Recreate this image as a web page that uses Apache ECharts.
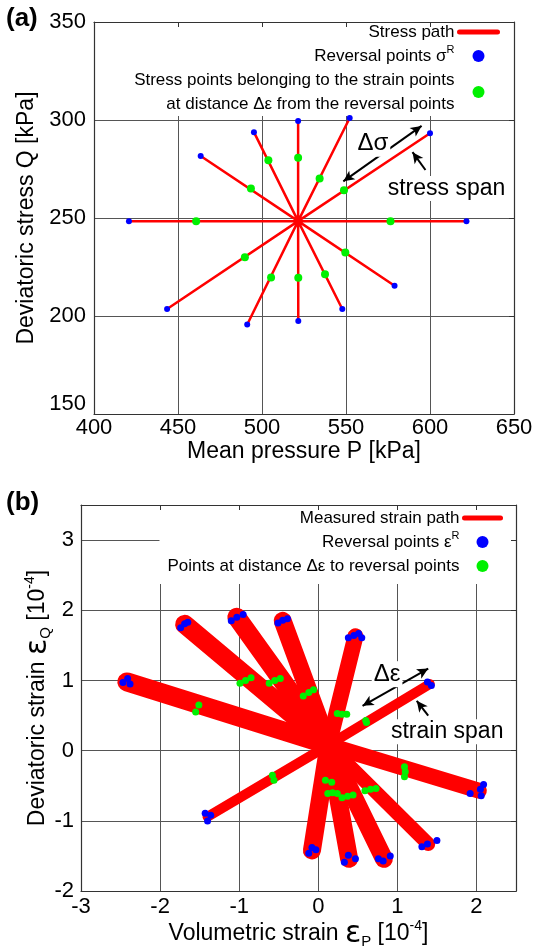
<!DOCTYPE html>
<html><head><meta charset="utf-8">
<script src="https://cdn.jsdelivr.net/npm/echarts@6/dist/echarts.min.js"></script>
<style>html,body{margin:0;padding:0;background:#fff}#c{width:539px;height:950px}</style>
</head><body><div id="c"></div>
<script>
// ---------- (a) stress space ----------
const stressCenter = [521.5, 248.4];
const stressRevP = [521.5, 552.2, 600.0, 495.2, 463.5, 420.8, 621.7, 443.5, 491.2, 521.6, 547.8, 578.9];
const stressRevQ = [299.5, 301.0, 293.2, 293.8, 281.6, 248.4, 248.4, 203.6, 195.7, 197.5, 203.6, 215.4];
const stressMidP = [521.5, 534.3, 548.8, 503.8, 493.4, 460.8, 576.5, 489.8, 505.4, 521.6, 537.5, 549.6];
const stressMidQ = [280.8, 270.1, 264.2, 279.5, 265.1, 248.4, 248.4, 230.0, 219.7, 219.5, 221.3, 232.4];
const stressXRange = [400, 650, 50];
const stressYRange = [150, 350, 50];
const stressSpanArrow = [[548.4, 268.7], [595.0, 297.0]];
const stressSpanPointer = [[597.3, 274.5], [589.6, 283.6]];
const stressSpanLabelAt = [609.8, 265.0];
const stressDeltaLabelAt = [566.0, 287.9];

// ---------- (b) strain space ----------
const strainCenter = [0.13, 0.08];
const strainEndP = [-2.42, -1.69, -1.03, -0.45, 0.47, 1.41, -1.40, -0.08, 0.39, 0.83, 1.39, 2.03];
const strainEndQ = [0.98, 1.80, 1.90, 1.85, 1.63, 0.95, -0.94, -1.42, -1.54, -1.54, -1.33, -0.57];
const strainRevP = [-2.47, -2.41, -2.38, -1.74, -1.69, -1.65, -1.10, -1.03, -0.95, -0.51, -0.45, -0.39,
  0.38, 0.45, 0.51, 0.55, 1.38, 1.43, -1.43, -1.36, -1.40, -0.12, -0.08, -0.03,
  0.33, 0.38, 0.47, 0.76, 0.82, 0.91, 1.31, 1.38, 1.50, 1.92, 2.05, 2.09, 2.06];
const strainRevQ = [0.97, 1.03, 0.95, 1.75, 1.81, 1.83, 1.85, 1.90, 1.94, 1.82, 1.86, 1.88,
  1.61, 1.64, 1.67, 1.61, 0.98, 0.93, -0.89, -0.92, -1.00, -1.46, -1.38, -1.41,
  -1.59, -1.49, -1.54, -1.54, -1.57, -1.50, -1.37, -1.33, -1.28, -0.61, -0.55, -0.48, -0.64];
const strainMidP = [-1.55, -1.51, -0.99, -0.92, -0.85, -0.62, -0.55, -0.48, -0.19, -0.12, -0.06,
  0.24, 0.30, 0.36, 0.60, 0.61, 1.09, 1.10, 1.09, -0.58, -0.56, 0.09, 0.17,
  0.12, 0.18, 0.24, 0.30, 0.37, 0.44, 0.59, 0.66, 0.73];
const strainMidQ = [0.55, 0.65, 0.96, 1.00, 1.04, 0.96, 1.00, 1.03, 0.78, 0.83, 0.87,
  0.53, 0.52, 0.52, 0.43, 0.40, -0.23, -0.30, -0.37, -0.35, -0.42, -0.42, -0.45,
  -0.61, -0.60, -0.61, -0.67, -0.65, -0.63, -0.57, -0.55, -0.54];
const strainXRange = [-3, 2.5, 1];
const strainYRange = [-2, 3.5, 1];
const strainSpanArrow = [[0.56, 0.64], [1.39, 1.17]];
const strainSpanPointer = [[1.39, 0.50], [1.245, 0.71]];
const strainSpanLabelAt = [1.63, 0.27];
const strainDeltaLabelAt = [0.87, 1.09];

// ---------- styling (not data) ----------
const FONT = 'Liberation Sans';
const RED = '#ff0000', BLUE = '#0000ff', GREEN = '#00f000';
const bandWidths = [19, 19, 19, 18, 16, 10, 10, 18, 18, 18, 14, 16];

function pairs(xs, ys) { return xs.map((x, i) => [x, ys[i]]); }
function star(c, xs, ys) { const d = []; xs.forEach((x, i) => { d.push(c.slice()); d.push([x, ys[i]]); }); return d; }

const legendNames = {
  a_path: 'Stress path',
  a_rev: '{t|Reversal points σ}{s|R}',
  a_mid: 'Stress points belonging to the strain points\nat distance Δε from the reversal points',
  b_path: 'Measured strain path',
  b_rev: '{t|Reversal points ε}{s|R}',
  b_mid: 'Points at distance Δε to reversal points'
};
const legendRich = {
  t: { fontSize: 17, fontFamily: FONT, color: '#000', lineHeight: 24 },
  s: { fontSize: 11, fontFamily: FONT, color: '#000', lineHeight: 12, verticalAlign: 'top' }
};
const nameRich = {
  t: { fontSize: 23, fontFamily: FONT, color: '#000', lineHeight: 30 },
  e: { fontSize: 30, fontFamily: 'DejaVu Sans', color: '#000', lineHeight: 30 },
  sub: { fontSize: 15, fontFamily: FONT, color: '#000', lineHeight: 15, verticalAlign: 'bottom' },
  sup: { fontSize: 14, fontFamily: FONT, color: '#000', lineHeight: 14, verticalAlign: 'top' }
};

function mainAxis(dim, grid, r, name, gap, margin, extraLabel, extraAxis) {
  return Object.assign({
    gridIndex: grid, type: 'value', min: r[0], max: r[1], interval: r[2],
    position: dim === 'x' ? 'bottom' : 'left',
    axisLine: { show: true, onZero: false, lineStyle: { color: '#333', width: 1.2 } },
    axisTick: { show: false },
    axisLabel: Object.assign({ color: '#000', fontSize: 22, fontFamily: FONT, margin: margin, showMaxLabel: r[1] % r[2] === 0 }, extraLabel || {}),
    splitLine: { show: true, lineStyle: { color: '#555', width: 1 } },
    name: name, nameLocation: 'middle', nameGap: gap,
    nameTextStyle: { fontSize: 23, fontFamily: FONT, color: '#000', rich: nameRich }
  }, extraAxis || {});
}
function frameAxis(dim, grid, r) {
  return {
    gridIndex: grid, type: 'value', min: r[0], max: r[1], interval: r[2], z: 10,
    position: dim === 'x' ? 'top' : 'right',
    axisLine: { show: true, onZero: false, lineStyle: { color: '#333', width: 1.2 } },
    axisTick: { show: true, inside: true, length: 5, lineStyle: { color: '#333', width: 1 } },
    axisLabel: { show: false }, splitLine: { show: false }
  };
}
function arrowLines(dbl, ptr) {
  return [
    [{ coord: dbl[0], symbol: 'arrow' }, { coord: dbl[1], symbol: 'arrow' }],
    [{ coord: ptr[0], symbol: 'none' }, { coord: ptr[1], symbol: 'arrow' }]
  ];
}
function textMark(at, text, size) {
  return {
    coord: at, symbol: 'rect', symbolSize: 1, itemStyle: { color: 'rgba(0,0,0,0)' },
    label: { show: true, position: 'inside', formatter: text, color: '#000', fontSize: size, fontFamily: FONT, backgroundColor: '#fff', padding: [1, 2] }
  };
}
const markLineBase = {
  silent: true, animation: false, symbolSize: [8, 11],
  lineStyle: { color: '#000', width: 2, type: 'solid' }, label: { show: false }
};

const series = [];
// (a)
series.push({
  name: 'a_path', type: 'line', xAxisIndex: 0, yAxisIndex: 0, symbol: 'none',
  data: star(stressCenter, stressRevP, stressRevQ),
  lineStyle: { color: RED, width: 2.5, cap: 'round' }, itemStyle: { color: RED }, z: 2,
  markLine: Object.assign({ data: arrowLines(stressSpanArrow, stressSpanPointer) }, markLineBase),
  markPoint: { silent: true, animation: false, data: [textMark(stressSpanLabelAt, 'stress span', 23), textMark(stressDeltaLabelAt, 'Δσ', 24)] }
});
series.push({ name: 'a_rev', type: 'scatter', xAxisIndex: 0, yAxisIndex: 0, symbol: 'circle', symbolSize: 6,
  data: pairs(stressRevP, stressRevQ), itemStyle: { color: BLUE, opacity: 1 }, z: 4 });
series.push({ name: 'a_mid', type: 'scatter', xAxisIndex: 0, yAxisIndex: 0, symbol: 'circle', symbolSize: 8,
  data: pairs(stressMidP, stressMidQ), itemStyle: { color: GREEN, opacity: 1 }, z: 4 });
// (b)
strainEndP.forEach((p, i) => {
  const s = {
    name: 'b_path', type: 'line', xAxisIndex: 2, yAxisIndex: 2, symbol: 'none',
    data: [strainCenter.slice(), [p, strainEndQ[i]]],
    lineStyle: { color: RED, width: bandWidths[i], cap: 'round' }, itemStyle: { color: RED }, z: 2
  };
  if (i === 0) {
    s.markLine = Object.assign({ data: arrowLines(strainSpanArrow, strainSpanPointer) }, markLineBase);
    s.markPoint = { silent: true, animation: false, data: [textMark(strainSpanLabelAt, 'strain span', 23), textMark(strainDeltaLabelAt, 'Δε', 24)] };
  }
  series.push(s);
});
series.push({ name: 'b_rev', type: 'scatter', xAxisIndex: 2, yAxisIndex: 2, symbol: 'circle', symbolSize: 7,
  data: pairs(strainRevP, strainRevQ), itemStyle: { color: BLUE, opacity: 1 }, z: 4 });
series.push({ name: 'b_mid', type: 'scatter', xAxisIndex: 2, yAxisIndex: 2, symbol: 'circle', symbolSize: 7,
  data: pairs(strainMidP, strainMidQ), itemStyle: { color: GREEN, opacity: 1 }, z: 4 });

function legendFor(names, top, right, itemWidth, pad) {
  return {
    orient: 'vertical', align: 'right', right: right, top: top, itemGap: 0,
    itemWidth: itemWidth, itemHeight: 12, padding: pad, backgroundColor: '#fff',
    selectedMode: false,
    data: [
      { name: names[0], lineStyle: { width: 5, color: RED }, itemStyle: { color: 'rgba(0,0,0,0)', borderWidth: 0, opacity: 0 } },
      { name: names[1], icon: 'circle' },
      { name: names[2], icon: 'circle' }
    ],
    formatter: n => legendNames[n],
    textStyle: { fontSize: 17, fontFamily: FONT, color: '#000', lineHeight: 24, rich: legendRich }
  };
}

const option = {
  animation: false,
  backgroundColor: '#fff',
  textStyle: { fontFamily: FONT },
  title: [
    { text: '(a)', left: 6, top: 6, padding: 0, textStyle: { fontSize: 26, fontWeight: 'bold', fontFamily: FONT, color: '#000' } },
    { text: '(b)', left: 6, top: 490, padding: 0, textStyle: { fontSize: 26, fontWeight: 'bold', fontFamily: FONT, color: '#000' } }
  ],
  grid: [
    { left: 94, top: 22, width: 420, height: 392, containLabel: false },
    { left: 81, top: 505, width: 435, height: 388, containLabel: false }
  ],
  legend: [
    legendFor(['a_path', 'a_rev', 'a_mid'], 20, 29, 38, [0, 10, 0, 10]),
    legendFor(['b_path', 'b_rev', 'b_mid'], 506, 28, 36, [0, 8, 6, 8])
  ],
  xAxis: [
    mainAxis('x', 0, stressXRange, 'Mean pressure P [kPa]', 25, 3),
    frameAxis('x', 0, stressXRange),
    mainAxis('x', 1, strainXRange, '{t|Volumetric strain }{e|ε}{sub|P}{t| [10}{sup|-4}{t|]}', 27, 5),
    frameAxis('x', 1, strainXRange)
  ],
  yAxis: [
    mainAxis('y', 0, stressYRange, 'Deviatoric stress Q [kPa]', 55, 8, {
      formatter: v => v === 150 ? '{up|150}' : String(v),
      rich: { up: { fontSize: 22, fontFamily: FONT, color: '#000', padding: [0, 0, 20, 0] } }
    }),
    frameAxis('y', 0, stressYRange),
    mainAxis('y', 1, strainYRange, '{t|Deviatoric strain }{e|ε}{sub|Q}{t| [10}{sup|-4}{t|]}', 28, 7, null, { nameMoveOverlap: false }),
    frameAxis('y', 1, strainYRange)
  ],
  series: series
};
const chart = echarts.init(document.getElementById('c'));
chart.setOption(option);
</script>
</body></html>
